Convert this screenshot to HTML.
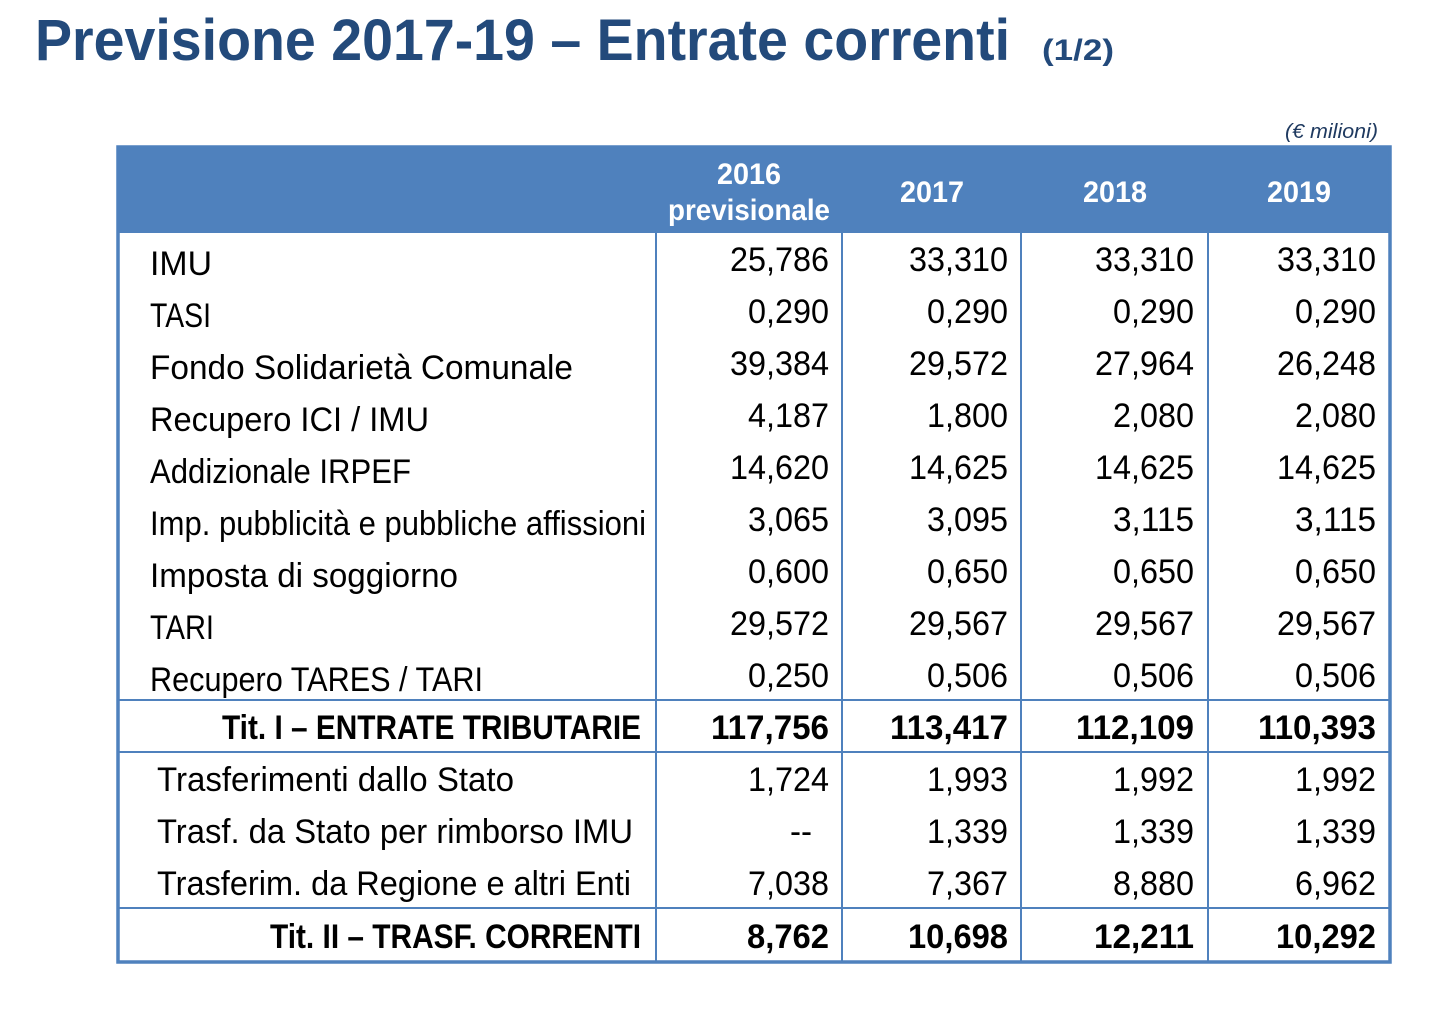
<!DOCTYPE html>
<html><head><meta charset="utf-8"><style>
html,body{margin:0;padding:0;background:#fff;}
svg{display:block;font-family:"Liberation Sans",sans-serif;}
</style></head><body>
<svg width="1442" height="1018" viewBox="0 0 1442 1018" xmlns="http://www.w3.org/2000/svg">
<text x="35" y="60" font-size="58" font-weight="bold" fill="#234a7b" textLength="975" lengthAdjust="spacingAndGlyphs">Previsione 2017-19 – Entrate correnti</text>
<text x="1042" y="60" font-size="30" font-weight="bold" fill="#234a7b" textLength="72" lengthAdjust="spacingAndGlyphs">(1/2)</text>
<text x="1285" y="138" font-size="20" font-style="italic" fill="#1f3a60" textLength="93" lengthAdjust="spacingAndGlyphs">(€ milioni)</text>
<rect x="117" y="147" width="1274" height="86" fill="#4f81bd"/>
<g fill="#fff" font-weight="bold" font-size="30" text-anchor="middle">
<text x="749" y="184" textLength="64" lengthAdjust="spacingAndGlyphs">2016</text>
<text x="749" y="220" textLength="162" lengthAdjust="spacingAndGlyphs">previsionale</text>
<text x="932" y="202" textLength="64" lengthAdjust="spacingAndGlyphs">2017</text>
<text x="1115" y="202" textLength="64" lengthAdjust="spacingAndGlyphs">2018</text>
<text x="1299" y="202" textLength="64" lengthAdjust="spacingAndGlyphs">2019</text>
</g>
<g stroke="#4f81bd" stroke-width="2" fill="none">
<line x1="656" y1="233" x2="656" y2="962"/>
<line x1="842" y1="233" x2="842" y2="962"/>
<line x1="1021" y1="233" x2="1021" y2="962"/>
<line x1="1208" y1="233" x2="1208" y2="962"/>
<line x1="117" y1="700" x2="1391" y2="700"/>
<line x1="117" y1="752" x2="1391" y2="752"/>
<line x1="117" y1="908" x2="1391" y2="908"/>
</g>
<rect x="118" y="147" width="1272" height="815" fill="none" stroke="#4f81bd" stroke-width="3.5"/>
<g font-size="34" fill="#000">
<text x="150" y="275" textLength="62" lengthAdjust="spacingAndGlyphs">IMU</text>
<text x="150" y="327" textLength="61" lengthAdjust="spacingAndGlyphs">TASI</text>
<text x="150" y="379" textLength="423" lengthAdjust="spacingAndGlyphs">Fondo Solidarietà  Comunale</text>
<text x="150" y="431" textLength="279" lengthAdjust="spacingAndGlyphs">Recupero ICI / IMU</text>
<text x="150" y="483" textLength="261" lengthAdjust="spacingAndGlyphs">Addizionale IRPEF</text>
<text x="150" y="535" textLength="496" lengthAdjust="spacingAndGlyphs">Imp. pubblicità e pubbliche affissioni</text>
<text x="150" y="587" textLength="308" lengthAdjust="spacingAndGlyphs">Imposta di soggiorno</text>
<text x="150" y="639" textLength="64" lengthAdjust="spacingAndGlyphs">TARI</text>
<text x="150" y="691" textLength="333" lengthAdjust="spacingAndGlyphs">Recupero TARES / TARI</text>
<text x="222" y="739" font-weight="bold" textLength="419" lengthAdjust="spacingAndGlyphs">Tit. I – ENTRATE TRIBUTARIE</text>
<text x="157" y="791" textLength="357" lengthAdjust="spacingAndGlyphs">Trasferimenti dallo Stato</text>
<text x="157" y="843" textLength="476" lengthAdjust="spacingAndGlyphs">Trasf. da Stato per rimborso IMU</text>
<text x="157" y="895" textLength="474" lengthAdjust="spacingAndGlyphs">Trasferim. da Regione e altri Enti</text>
<text x="270" y="948" font-weight="bold" textLength="371" lengthAdjust="spacingAndGlyphs">Tit. II – TRASF. CORRENTI</text>
</g>
<g font-size="34" fill="#000" text-anchor="end">
<text x="829" y="271" textLength="99" lengthAdjust="spacingAndGlyphs">25,786</text>
<text x="1008" y="271" textLength="99" lengthAdjust="spacingAndGlyphs">33,310</text>
<text x="1194" y="271" textLength="99" lengthAdjust="spacingAndGlyphs">33,310</text>
<text x="1376" y="271" textLength="99" lengthAdjust="spacingAndGlyphs">33,310</text>
<text x="829" y="323" textLength="81" lengthAdjust="spacingAndGlyphs">0,290</text>
<text x="1008" y="323" textLength="81" lengthAdjust="spacingAndGlyphs">0,290</text>
<text x="1194" y="323" textLength="81" lengthAdjust="spacingAndGlyphs">0,290</text>
<text x="1376" y="323" textLength="81" lengthAdjust="spacingAndGlyphs">0,290</text>
<text x="829" y="375" textLength="99" lengthAdjust="spacingAndGlyphs">39,384</text>
<text x="1008" y="375" textLength="99" lengthAdjust="spacingAndGlyphs">29,572</text>
<text x="1194" y="375" textLength="99" lengthAdjust="spacingAndGlyphs">27,964</text>
<text x="1376" y="375" textLength="99" lengthAdjust="spacingAndGlyphs">26,248</text>
<text x="829" y="427" textLength="81" lengthAdjust="spacingAndGlyphs">4,187</text>
<text x="1008" y="427" textLength="81" lengthAdjust="spacingAndGlyphs">1,800</text>
<text x="1194" y="427" textLength="81" lengthAdjust="spacingAndGlyphs">2,080</text>
<text x="1376" y="427" textLength="81" lengthAdjust="spacingAndGlyphs">2,080</text>
<text x="829" y="479" textLength="99" lengthAdjust="spacingAndGlyphs">14,620</text>
<text x="1008" y="479" textLength="99" lengthAdjust="spacingAndGlyphs">14,625</text>
<text x="1194" y="479" textLength="99" lengthAdjust="spacingAndGlyphs">14,625</text>
<text x="1376" y="479" textLength="99" lengthAdjust="spacingAndGlyphs">14,625</text>
<text x="829" y="531" textLength="81" lengthAdjust="spacingAndGlyphs">3,065</text>
<text x="1008" y="531" textLength="81" lengthAdjust="spacingAndGlyphs">3,095</text>
<text x="1194" y="531" textLength="81" lengthAdjust="spacingAndGlyphs">3,115</text>
<text x="1376" y="531" textLength="81" lengthAdjust="spacingAndGlyphs">3,115</text>
<text x="829" y="583" textLength="81" lengthAdjust="spacingAndGlyphs">0,600</text>
<text x="1008" y="583" textLength="81" lengthAdjust="spacingAndGlyphs">0,650</text>
<text x="1194" y="583" textLength="81" lengthAdjust="spacingAndGlyphs">0,650</text>
<text x="1376" y="583" textLength="81" lengthAdjust="spacingAndGlyphs">0,650</text>
<text x="829" y="635" textLength="99" lengthAdjust="spacingAndGlyphs">29,572</text>
<text x="1008" y="635" textLength="99" lengthAdjust="spacingAndGlyphs">29,567</text>
<text x="1194" y="635" textLength="99" lengthAdjust="spacingAndGlyphs">29,567</text>
<text x="1376" y="635" textLength="99" lengthAdjust="spacingAndGlyphs">29,567</text>
<text x="829" y="687" textLength="81" lengthAdjust="spacingAndGlyphs">0,250</text>
<text x="1008" y="687" textLength="81" lengthAdjust="spacingAndGlyphs">0,506</text>
<text x="1194" y="687" textLength="81" lengthAdjust="spacingAndGlyphs">0,506</text>
<text x="1376" y="687" textLength="81" lengthAdjust="spacingAndGlyphs">0,506</text>
<g font-weight="bold">
<text x="829" y="739" textLength="118" lengthAdjust="spacingAndGlyphs">117,756</text>
<text x="1008" y="739" textLength="118" lengthAdjust="spacingAndGlyphs">113,417</text>
<text x="1194" y="739" textLength="118" lengthAdjust="spacingAndGlyphs">112,109</text>
<text x="1376" y="739" textLength="118" lengthAdjust="spacingAndGlyphs">110,393</text>
</g>
<text x="829" y="791" textLength="81" lengthAdjust="spacingAndGlyphs">1,724</text>
<text x="1008" y="791" textLength="81" lengthAdjust="spacingAndGlyphs">1,993</text>
<text x="1194" y="791" textLength="81" lengthAdjust="spacingAndGlyphs">1,992</text>
<text x="1376" y="791" textLength="81" lengthAdjust="spacingAndGlyphs">1,992</text>
<text x="812" y="843" textLength="22" lengthAdjust="spacingAndGlyphs">--</text>
<text x="1008" y="843" textLength="81" lengthAdjust="spacingAndGlyphs">1,339</text>
<text x="1194" y="843" textLength="81" lengthAdjust="spacingAndGlyphs">1,339</text>
<text x="1376" y="843" textLength="81" lengthAdjust="spacingAndGlyphs">1,339</text>
<text x="829" y="895" textLength="81" lengthAdjust="spacingAndGlyphs">7,038</text>
<text x="1008" y="895" textLength="81" lengthAdjust="spacingAndGlyphs">7,367</text>
<text x="1194" y="895" textLength="81" lengthAdjust="spacingAndGlyphs">8,880</text>
<text x="1376" y="895" textLength="81" lengthAdjust="spacingAndGlyphs">6,962</text>
<g font-weight="bold">
<text x="829" y="948" textLength="82" lengthAdjust="spacingAndGlyphs">8,762</text>
<text x="1008" y="948" textLength="100" lengthAdjust="spacingAndGlyphs">10,698</text>
<text x="1194" y="948" textLength="100" lengthAdjust="spacingAndGlyphs">12,211</text>
<text x="1376" y="948" textLength="100" lengthAdjust="spacingAndGlyphs">10,292</text>
</g>
</g>
</svg>
</body></html>
